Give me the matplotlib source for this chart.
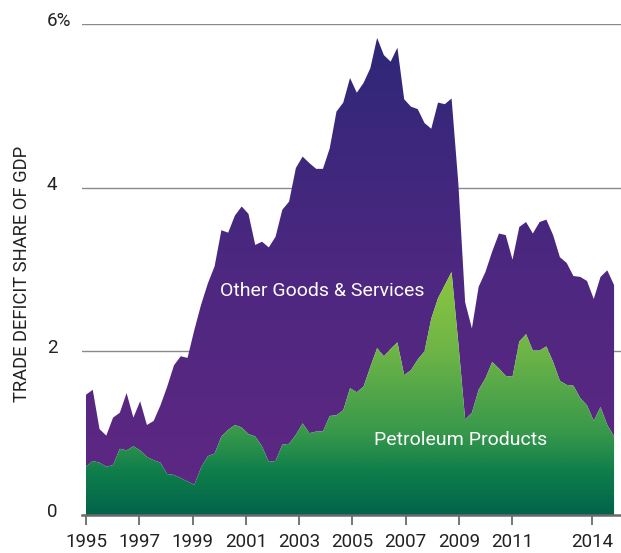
import numpy as np
import matplotlib
matplotlib.use("Agg")
import matplotlib.pyplot as plt
from matplotlib.colors import LinearSegmentedColormap
from matplotlib.transforms import ScaledTranslation

plt.rcParams['font.family'] = ['Roboto', 'DejaVu Sans']

# trade deficit as share of GDP, quarterly-ish points, 1995 -> late 2014
total = [1.47, 1.53, 1.05, 0.97, 1.19, 1.25, 1.49, 1.19, 1.39, 1.10,
         1.15, 1.34, 1.57, 1.83, 1.94, 1.92, 2.26, 2.57, 2.83, 3.04,
         3.48, 3.45, 3.66, 3.77, 3.68, 3.30, 3.34, 3.27, 3.40, 3.73,
         3.83, 4.24, 4.38, 4.30, 4.23, 4.23, 4.48, 4.93, 5.04, 5.34,
         5.16, 5.28, 5.46, 5.83, 5.62, 5.54, 5.71, 5.08, 4.99, 4.96,
         4.79, 4.72, 5.04, 5.02, 5.09, 4.05, 2.60, 2.28, 2.79, 2.97,
         3.22, 3.44, 3.42, 3.12, 3.52, 3.58, 3.44, 3.58, 3.61, 3.42,
         3.15, 3.08, 2.92, 2.91, 2.86, 2.64, 2.91, 2.99, 2.81]
petroleum = [0.59, 0.66, 0.64, 0.59, 0.61, 0.81, 0.79, 0.84, 0.79, 0.71,
             0.67, 0.64, 0.50, 0.49, 0.45, 0.41, 0.37, 0.58, 0.72, 0.75,
             0.96, 1.04, 1.10, 1.07, 0.99, 0.96, 0.84, 0.65, 0.66, 0.86,
             0.87, 0.98, 1.12, 1.00, 1.02, 1.02, 1.21, 1.22, 1.28, 1.55,
             1.50, 1.57, 1.81, 2.04, 1.94, 2.03, 2.11, 1.71, 1.77, 1.90,
             2.00, 2.40, 2.65, 2.81, 2.97, 2.10, 1.17, 1.25, 1.53, 1.67,
             1.87, 1.79, 1.70, 1.69, 2.12, 2.21, 2.01, 2.01, 2.06, 1.87,
             1.64, 1.59, 1.58, 1.43, 1.34, 1.15, 1.32, 1.10, 0.96]
start_year = 1995.0
end_year = 2014.83
tick_years = [1995, 1997, 1999, 2001, 2003, 2005, 2007, 2009, 2011, 2014]
ytick_vals = [0, 2, 4, 6]
ytick_text = ['0', '2', '4', '6%']

x = np.linspace(start_year, end_year, len(total))

fig = plt.figure(figsize=(6.21, 5.53), dpi=100)
ax = fig.add_axes([0.1316, 0.0687, 0.8684, 0.8879])

green = LinearSegmentedColormap.from_list(
    'g', [(0.0, '#02634a'), (0.17, '#0e7d4b'), (0.33, '#37984b'),
          (0.66, '#6db447'), (1.0, '#8dc73f')])
purple = LinearSegmentedColormap.from_list(
    'p', [(0.0, '#602883'), (0.5, '#4d2780'), (1.0, '#2c2878')])

grad = np.linspace(0, 1, 256).reshape(-1, 1)

top_poly = ax.fill_between(x, petroleum, total, facecolor='none', edgecolor='none')
im = ax.imshow(grad, extent=[x[0], x[-1], 0, 6], origin='lower', aspect='auto',
               cmap=purple, zorder=2)
im.set_clip_path(top_poly.get_paths()[0], ax.transData)

bot_poly = ax.fill_between(x, 0, petroleum, facecolor='none', edgecolor='none')
im2 = ax.imshow(grad, extent=[x[0], x[-1], 0, 3], origin='lower', aspect='auto',
                cmap=green, zorder=2)
im2.set_clip_path(bot_poly.get_paths()[0], ax.transData)
ax.set_xlim(1994.84, 2015.09)
ax.set_ylim(0, 6)

for v in ytick_vals[1:]:
    ax.axhline(v, color='#8a8a8a', lw=1.0, zorder=1)

for s in ['top', 'right', 'left']:
    ax.spines[s].set_visible(False)
ax.spines['bottom'].set_color('#6a6a6a')
ax.spines['bottom'].set_linewidth(1.8)
ax.spines['bottom'].set_zorder(3)

ax.set_xticks(tick_years, [str(t) for t in tick_years])
ax.tick_params(axis='x', direction='out', length=7, width=1.3, color='#6a6a6a',
               labelsize=13.5, labelcolor='#222222', pad=6)

ax.set_yticks(ytick_vals, ytick_text)
ax.tick_params(axis='y', length=0, pad=25, labelsize=13.5, labelcolor='#222222')
for lbl in ax.get_yticklabels():
    lbl.set_horizontalalignment('left')
    lbl.set_transform(lbl.get_transform() + ScaledTranslation(0, 5 / 100, fig.dpi_scale_trans))

ax.set_ylabel('TRADE DEFICIT SHARE OF GDP', fontsize=13.2, color='#222222')
ax.yaxis.set_label_coords(-0.094, 0.49)

ax.text(2003.86, 2.74, 'Other Goods & Services', color='white', fontsize=14,
        ha='center', va='center', zorder=4)
ax.text(2009.08, 0.92, 'Petroleum Products', color='white', fontsize=14,
        ha='center', va='center', zorder=4)

fig.savefig('out.png', dpi=100)
